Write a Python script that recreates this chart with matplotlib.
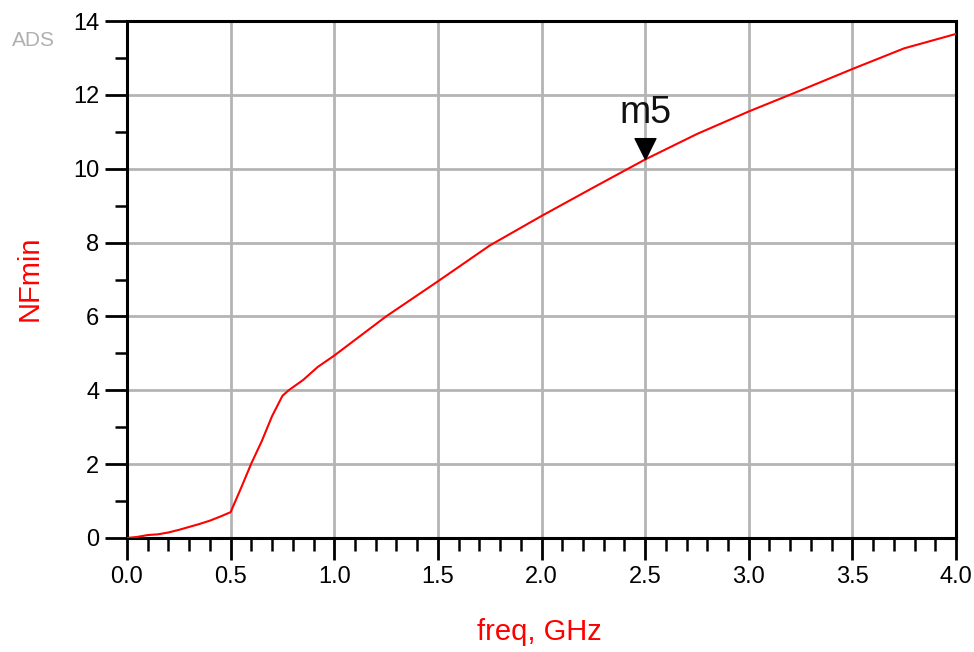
import matplotlib
matplotlib.use("Agg")
import matplotlib.pyplot as plt
from matplotlib.path import Path
from matplotlib.ticker import MultipleLocator

# ---- data ----
freq_ghz = [0.00, 0.05, 0.10, 0.15, 0.20, 0.25, 0.30, 0.35, 0.40, 0.45, 0.50,
            0.55, 0.60, 0.65, 0.70, 0.75, 0.78, 0.85, 0.92, 1.00, 1.25, 1.50,
            1.75, 2.00, 2.25, 2.50, 2.75, 3.00, 3.25, 3.50, 3.75, 4.00]
nfmin = [0.00, 0.03, 0.08, 0.10, 0.15, 0.22, 0.30, 0.38, 0.47, 0.58, 0.70,
         1.35, 2.02, 2.62, 3.30, 3.85, 4.00, 4.28, 4.63, 4.94, 6.00, 6.95,
         7.92, 8.72, 9.49, 10.25, 10.94, 11.55, 12.12, 12.70, 13.26, 13.65]
marker_name = "m5"
marker_freq = 2.5
marker_value = 10.25
x_ticks = [0.0, 0.5, 1.0, 1.5, 2.0, 2.5, 3.0, 3.5, 4.0]
y_ticks = [0, 2, 4, 6, 8, 10, 12, 14]
x_label = "freq, GHz"
y_label = "NFmin"
corner_text = "ADS"

plt.rcParams['font.family'] = ['Liberation Sans', 'DejaVu Sans']

W, H = 974, 652
fig = plt.figure(figsize=(W / 100, H / 100), dpi=100)
left, right, top, bottom = 127, 956, 21, 538
ax = fig.add_axes([left / W, 1 - bottom / H, (right - left) / W, (bottom - top) / H])

ax.plot(freq_ghz, nfmin, color="#ff0000", lw=1.5, zorder=3)

# marker: down-pointing triangle with tip on the curve
tri = Path([(-1, 2), (1, 2), (0, 0), (-1, 2)],
           [Path.MOVETO, Path.LINETO, Path.LINETO, Path.CLOSEPOLY])
ax.plot([marker_freq], [marker_value], linestyle="none", marker=tri,
        markersize=30, color="black", zorder=4, clip_on=False)
ax.annotate(marker_name, (marker_freq, marker_value), xytext=(0, 28),
            textcoords="offset pixels", ha="center", va="bottom",
            fontsize=27, color="#111111", zorder=5)

ax.set_xlim(0, 4)
ax.set_ylim(0, 14)
ax.set_xticks(x_ticks)
ax.set_xticklabels([f"{v:.1f}" for v in x_ticks])
ax.set_yticks(y_ticks)
ax.set_yticklabels([str(v) for v in y_ticks])
ax.xaxis.set_minor_locator(MultipleLocator(0.1))
ax.yaxis.set_minor_locator(MultipleLocator(1))

ax.grid(True, which="major", color="#b4b4b4", lw=2.0, zorder=1)
ax.set_axisbelow(True)
for s in ax.spines.values():
    s.set_linewidth(2.2)
    s.set_color("black")
ax.tick_params(which="major", direction="out", length=16, width=2.0,
               labelsize=17, pad=4, colors="black")
ax.tick_params(which="minor", direction="out", length=9, width=1.8,
               colors="black")

ax.set_xlabel(x_label, color="#ff0000", fontsize=21)
ax.set_ylabel(y_label, color="#ff0000", fontsize=21)
ax.xaxis.set_label_coords(0.497, -0.155)
ax.yaxis.set_label_coords(-0.10, 0.503)

fig.text(12 / W, 1 - 46 / H, corner_text, color="#b0b0b0", fontsize=15,
         ha="left", va="baseline")

fig.savefig("out.png", dpi=100, facecolor="white")
